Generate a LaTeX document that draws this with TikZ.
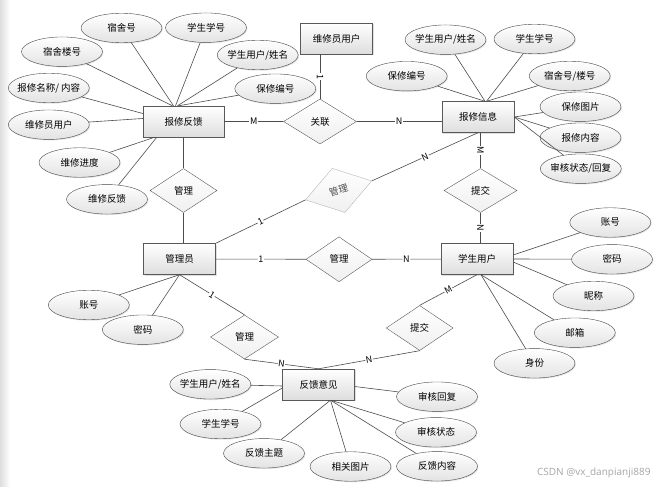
\documentclass[tikz,border=0pt]{standalone}
\usepackage{fontspec}
\setmainfont{Noto Sans CJK SC}
\newfontfamily\wmfont{Open Sans}
\usetikzlibrary{shapes.geometric,shadows}
\begin{document}
\begin{tikzpicture}[x=1pt, y=-1pt,
	ent/.style = {draw=black!65, rectangle, minimum width=72pt, minimum height=31pt, top color=white, bottom color=black!13, drop shadow={shadow xshift=1.2pt, shadow yshift=-1.2pt, opacity=0.25}, font=\fontsize{9.5}{11}\selectfont},
	attr/.style = {draw=black!72, ellipse, minimum width=81pt, minimum height=29.5pt, inner xsep=-6pt, inner ysep=0pt, top color=white, bottom color=black!11, drop shadow={shadow xshift=1pt, shadow yshift=-1pt, opacity=0.2}, font=\fontsize{9.5}{11}\selectfont},
	rel/.style = {draw=black!65, diamond, minimum width=67pt, minimum height=44pt, inner sep=0pt, top color=white, bottom color=black!6, font=\fontsize{9.5}{11}\selectfont},
	lab/.style = {fill=white, inner sep=0.6pt, sloped, font=\fontsize{9}{10}\selectfont},
	con/.style = {draw=black!70, line width=0.6pt}]
				\fill[white] (0,0) rectangle (665,487);
				\shade[left color=black!13, right color=white] (0,0) rectangle (10,487);
				\useasboundingbox (0,0) rectangle (665,487);
				\node[ent, minimum width=81pt] (bxfk) at (183.5,121.5) {报修反馈};
				\node[ent] (wxy) at (336.5,38.5) {维修员用户};
				\node[ent] (bxxx) at (478,117) {报修信息};
				\node[ent] (gly) at (179.5,259) {管理员};
				\node[ent] (xsyh) at (477,259) {学生用户};
				\node[ent] (fkyj) at (318.5,384.5) {反馈意见};
				\node[rel, minimum width=73pt, minimum height=45pt] (gl) at (320,121.5) {关联};
				\node[rel] (gl3) at (183.5,190.5) {管理};
				\node[rel, draw=black!28, rotate=16, minimum width=69pt, minimum height=46pt, text=black!70] (gl2) at (338.6,190.4) {管理};
				\node[rel, minimum width=73pt] (tj1) at (480.5,190.5) {提交};
				\node[rel, minimum width=66pt, minimum height=45pt] (gl4) at (339,259.3) {管理};
				\node[rel, minimum width=68pt] (gl5) at (244.5,337) {管理};
				\node[rel, minimum height=45pt] (tj2) at (419.7,328) {提交};
				\node[attr] (ssl) at (62,51.7) {宿舍楼号};
				\node[attr] (ssh) at (121.5,28) {宿舍号};
				\node[attr] (xsxh) at (206,27.7) {学生学号};
				\node[attr] (xsxm) at (257.7,55) {学生用户/姓名};
				\node[attr] (bxbh) at (275.3,88.7) {保修编号};
				\node[attr] (bxmc) at (48.8,88) {报修名称/ 内容};
				\node[attr] (wxyh) at (48.8,124.7) {维修员用户};
				\node[attr] (wxjd) at (79.5,162.5) {维修进度};
				\node[attr] (wxfk) at (107,199.3) {维修反馈};
				\node[attr] (xsxm2) at (445.5,39.7) {学生用户/姓名};
				\node[attr] (xsxh2) at (534.5,39) {学生学号};
				\node[attr] (bxbh2) at (406.7,76.2) {保修编号};
				\node[attr] (sslh) at (569.7,76) {宿舍号/楼号};
				\node[attr] (bxtp) at (580.5,106.7) {保修图片};
				\node[attr] (bxnr) at (580.5,137.7) {报修内容};
				\node[attr] (shhf1) at (580.8,168.7) {审核状态/回复};
				\node[attr] (zh2) at (610.3,222.5) {账号};
				\node[attr] (mm2) at (612,259.3) {密码};
				\node[attr] (nc) at (593.5,296) {昵称};
				\node[attr] (yx) at (574.8,332.7) {邮箱};
				\node[attr] (sf) at (534.5,363.3) {身份};
				\node[attr] (zh1) at (88.8,305) {账号};
				\node[attr] (mm1) at (142.8,329.7) {密码};
				\node[attr] (xsxm3) at (210.3,384.3) {学生用户/姓名};
				\node[attr] (xsxh3) at (220.5,424) {学生学号};
				\node[attr] (fkzt) at (264,453.3) {反馈主题};
				\node[attr] (xgtp) at (350.5,466.5) {相关图片};
				\node[attr] (shhf) at (437,396.7) {审核回复};
				\node[attr] (shzt) at (436,432.3) {审核状态};
				\node[attr] (fknr) at (437,466.3) {反馈内容};
				\node[font=\wmfont\fontsize{10}{12}\selectfont, text=black!35, anchor=east] (wm) at (654,472.5) {CSDN @vx\_danpianji889};
				\draw[con] (ssl) -- ([xshift=-11pt]bxfk.north);
				\draw[con] (ssh) -- ([xshift=-10pt]bxfk.north);
				\draw[con] (xsxh) -- ([xshift=-8pt]bxfk.north);
				\draw[con] (xsxm) -- ([xshift=-6pt]bxfk.north);
				\draw[con] (bxbh) -- ([xshift=-5pt]bxfk.north);
				\draw[con] (bxmc) -- ([yshift=8pt]bxfk.west);
				\draw[con] (wxyh) -- ([yshift=3pt]bxfk.west);
				\draw[con] (wxjd) -- ([xshift=12pt]bxfk.south west);
				\draw[con] (wxfk) -- ([xshift=14pt]bxfk.south west);
				\draw[con] (xsxm2) -- ([xshift=7pt]bxxx.north);
				\draw[con] (bxbh2) -- ([xshift=7pt]bxxx.north);
				\draw[con] (xsxh2) -- ([xshift=8.5pt]bxxx.north);
				\draw[con] (sslh) -- ([xshift=8.5pt]bxxx.north);
				\draw[con] (bxtp) -- (bxxx.east);
				\draw[con] (bxnr) -- (bxxx.east);
				\draw[con] (shhf1) -- (bxxx.east);
				\draw[con] (zh2) -- ([yshift=4pt]xsyh.east);
				\draw[con] (mm2) -- (xsyh.east);
				\draw[con] (nc) -- ([yshift=-3pt]xsyh.east);
				\draw[con] (yx) -- ([xshift=4pt]xsyh.south);
				\draw[con] (sf) -- ([xshift=4pt]xsyh.south);
				\draw[con] (zh1) -- (gly.south);
				\draw[con] (mm1) -- (gly.south);
				\draw[con] (xsxm3) -- ([yshift=-1.5pt]fkyj.west);
				\draw[con] (xsxh3) -- ([yshift=-3.5pt]fkyj.west);
				\draw[con] (fkzt) -- ([xshift=12pt]fkyj.south);
				\draw[con] (xgtp) -- ([xshift=12pt]fkyj.south);
				\draw[con] (shzt) -- ([xshift=12pt]fkyj.south);
				\draw[con] (fknr) -- ([xshift=12pt]fkyj.south);
				\draw[con] (shhf) -- ([yshift=-2pt]fkyj.east);
				\draw[con] (bxfk) -- node[lab] {M} (gl);
				\draw[con] (gl) -- node[lab] {N} (gl -| bxxx.west);
				\draw[con] (gl.north |- wxy.south) -- node[lab] {1} (gl.north);
				\draw[con] (tj1.north |- bxxx.south) -- node[lab] {M} (tj1.north);
				\draw[con] (tj1.south) -- node[lab] {N} (tj1.south |- xsyh.north);
				\draw[con] (gl2.east) -- node[lab] {N} (bxxx.south);
				\draw[con] (gly.north east) -- node[lab] {1} (gl2.west);
				\draw[con] (gl3.north) -- (gl3.north |- bxfk.south);
				\draw[con] (gl3.south) -- (gl3.south |- gly.north);
				\draw[con] (gly) -- node[lab] {1} (gl4);
				\draw[con] (gl4) -- node[lab] {N} (xsyh);
				\draw[con] (gly.south) -- node[lab] {1} (gl5.north);
				\draw[con] (gl5.south) -- node[lab] {N} (fkyj.north);
				\draw[con] (tj2.north) -- node[lab] {M} (xsyh.south);
				\draw[con] (tj2.south) -- node[lab] {N} (fkyj.north);
			\end{tikzpicture}
\end{document}
